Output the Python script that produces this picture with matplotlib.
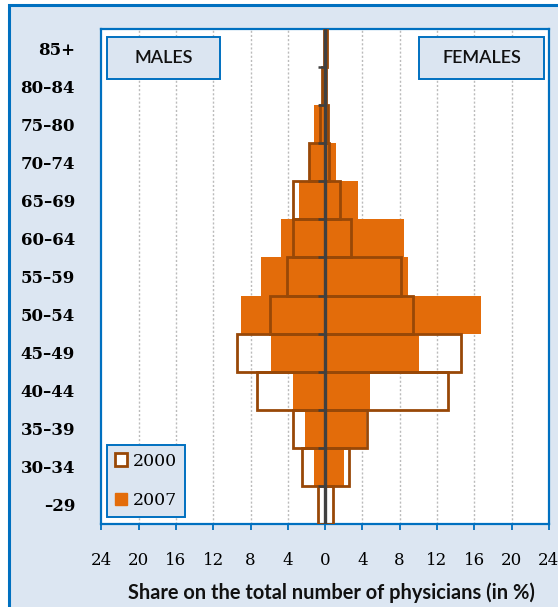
import matplotlib
matplotlib.use("Agg")
import matplotlib.pyplot as plt
from matplotlib.patches import Rectangle, Patch
import numpy as np

# ---- data ----
ages = ['–29', '30–34', '35–39', '40–44', '45–49', '50–54', '55–59',
        '60–64', '65–69', '70–74', '75–80', '80–84', '85+']
males_2000 = [0.72, 2.45, 3.4, 7.3, 9.4, 5.9, 4.1, 3.4, 3.4, 1.7, 0.6, 0.3, 0.1]
females_2000 = [0.9, 2.6, 4.5, 13.2, 14.6, 9.4, 8.1, 2.75, 1.6, 0.4, 0.3, 0.15, 0.2]
males_2007 = [0.05, 1.15, 2.2, 3.4, 5.85, 9.0, 6.85, 4.7, 2.75, 1.75, 1.15, 0.3, 0.1]
females_2007 = [0.15, 2.0, 4.4, 4.8, 10.1, 16.75, 8.9, 8.5, 3.55, 1.2, 0.45, 0.1, 0.1]
xticks = [-24, -20, -16, -12, -8, -4, 0, 4, 8, 12, 16, 20, 24]
xticklabels = ['24', '20', '16', '12', '8', '4', '0', '4', '8', '12', '16', '20', '24']
years = ['2000', '2007']

ORANGE = '#E36C0A'
BROWN = '#984807'
BLUE = '#0070C0'
BG = '#DCE6F2'
BOXBG = '#DBE5F1'
DARK = '#404040'

fig = plt.figure(figsize=(5.58, 6.07), dpi=100, facecolor='white')
# outer frame
fig.patches.append(Rectangle((8.5 / 558, -0.2), 1.3, 1 - 5 / 607 + 0.2,
                             transform=fig.transFigure, facecolor=BG,
                             edgecolor=BLUE, lw=2.2, zorder=-10))

ax = fig.add_axes([101.4 / 558, 1 - 524 / 607, 447.4 / 558, 495 / 607])
ax.set_facecolor('white')

y = np.arange(len(ages))
m07 = -np.array(males_2007)
f07 = np.array(females_2007)
m00 = -np.array(males_2000)
f00 = np.array(females_2000)

ax.barh(y, m07, height=1.0, color=ORANGE, zorder=2)
ax.barh(y, f07, height=1.0, color=ORANGE, zorder=2)
ax.barh(y, m00, height=1.0, fill=False, edgecolor=BROWN, lw=2.0, zorder=3)
ax.barh(y, f00, height=1.0, fill=False, edgecolor=BROWN, lw=2.0, zorder=3)

ax.set_xlim(-24, 24)
ax.set_ylim(-0.5, len(ages) - 0.5)

# zero axis with ticks at category boundaries
ax.axvline(0, color=DARK, lw=2.4, zorder=5)
bounds = np.arange(len(ages) + 1) - 0.5
ax.hlines(bounds[1:-1], -0.75, 0, color=DARK, lw=1.8, zorder=5)

# grid
for xv in xticks[1:-1]:
    if xv != 0:
        ax.axvline(xv, color='#BBBBBB', lw=1.0, ls=(0, (1.5, 1.5)), zorder=1)

ax.set_xticks(xticks)
ax.set_xticklabels(xticklabels, fontfamily='DejaVu Serif', fontsize=12)
ax.set_yticks(y)
ax.set_yticklabels(ages, fontfamily='DejaVu Serif', fontweight='bold', fontsize=12)
ax.tick_params(axis='x', direction='out', length=4.3, width=1.3, color=BLUE, pad=16)
ax.tick_params(axis='y', length=0, pad=19)
for s in ax.spines.values():
    s.set_color(BLUE)
    s.set_linewidth(1.6)

# gender boxes
for (x0, x1, txt) in [(0.012, 0.266, 'MALES'), (0.709, 0.990, 'FEMALES')]:
    ax.add_patch(Rectangle((x0, 0.900), x1 - x0, 0.084, transform=ax.transAxes,
                           facecolor=BOXBG, edgecolor=BLUE, lw=1.4, zorder=6))
    ax.text((x0 + x1) / 2, 0.942, txt, transform=ax.transAxes, ha='center',
            va='center', fontfamily='Lato', fontweight='semibold', fontsize=13,
            color='#111111', zorder=7)

handles = [Patch(facecolor='white', edgecolor=BROWN, lw=2.0),
           Patch(facecolor=ORANGE, edgecolor=ORANGE)]
leg = ax.legend(handles, years, loc='lower left',
                bbox_to_anchor=(0.0136, 0.0141), borderaxespad=0,
                prop={'family': 'DejaVu Serif', 'size': 12.5},
                handlelength=0.7, handleheight=0.7, handletextpad=0.3,
                labelspacing=1.3, borderpad=0.45, fancybox=False, framealpha=1)
leg.get_frame().set_facecolor(BOXBG)
leg.get_frame().set_edgecolor(BLUE)
leg.get_frame().set_linewidth(1.4)
leg.set_zorder(8)

fig.text(331.5 / 558, 1 - 593 / 607, 'Share on the total number of physicians (in %)',
         ha='center', va='center', fontfamily='Lato', fontweight='bold',
         fontsize=14.4, color='#111111')

fig.savefig('out.png', dpi=100, facecolor=fig.get_facecolor())
